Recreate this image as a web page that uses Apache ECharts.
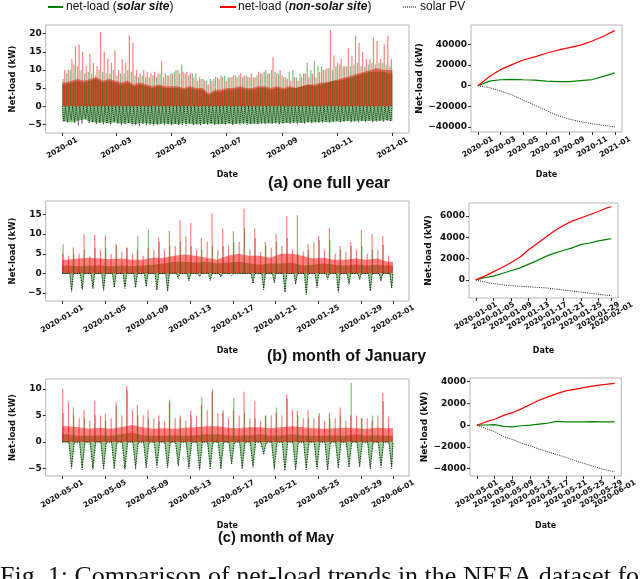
<!DOCTYPE html>
<html><head><meta charset="utf-8">
<script src="https://cdn.jsdelivr.net/npm/echarts@6/dist/echarts.min.js"></script>
<style>html,body{margin:0;padding:0;background:#fff}#c{width:640px;height:579px}</style>
</head><body><div id="c"></div><script>
// ---------------- DATA ----------------
// (a) full year: spike maxima per 4-day bin (92 bins)
const yearRedPk = [10,10,13,16.5,17,15,11,14.5,12,11,
 20.5,15,13,12,15.5,10,13,12,19.5,17.5,
 10,9,10,9.5,9,9.5,9,12.5,9,8.5,
 9,10,9,9.5,9.5,9,8,7,7.5,7,
 6,7,8,7.5,8,7,8,8.5,8,9,
 8.5,8,9,8,9.5,9,10,9,13.5,9,
 10,8,7.5,7,8,7,8,9,8,9,
 8,9.5,10,10.5,21,14,12,13,11,16,
 14,19.5,17.5,15,13,13,19,18,13,17,
 19.5,13];
const yearGrnPk = [7.5,9,10,11.5,11,10,9,9.5,9,8.5,
 10,9.5,9,9,10,8.5,9,9,10,9.5,
 8.5,8,8.5,8,8,8.5,8,9,8,8.5,
 9,9.5,10,11.5,9,8.5,9,9,8,7.5,
 7,7.5,7.5,8,8.5,8.5,8,8,8.5,8.5,
 8,8.5,8,8,8.5,9,9.5,9,10,9.5,
 9,8.5,8,9.5,10,8,9,9,12,10,
 12.5,11,11,10,10.5,10,11,11.5,11,11,
 11,11.5,12,11,11,11.5,12,11.5,12,12,
 11.5,11];
const yearPV = [-4.2,-4.5,-3.8,-4.6,-5.3,-4.8,-3.5,-4.7,-4.4,-4.9,
 -4.6,-5.0,-4.8,-5.1,-4.3,-4.9,-5.2,-5.0,-4.6,-5.3,
 -5.2,-5.4,-4.9,-5.2,-5.0,-5.3,-5.1,-4.8,-5.2,-5.0,
 -5.3,-4.9,-5.2,-5.1,-5.3,-4.7,-5.2,-5.0,-5.3,-4.9,
 -5.1,-4.8,-5.2,-5.0,-4.9,-5.1,-4.8,-5.2,-4.9,-5.0,
 -4.8,-5.1,-4.9,-4.7,-5.0,-4.8,-4.9,-4.6,-4.9,-4.7,
 -5.0,-4.8,-4.6,-4.9,-4.7,-5.0,-4.6,-4.8,-4.5,-4.7,
 -4.4,-4.6,-4.5,-4.2,-4.6,-4.4,-4.1,-4.5,-4.3,-4.0,
 -4.4,-4.2,-4.5,-4.1,-4.3,-4.0,-4.4,-4.2,-4.1,-4.3,
 -4.0,-4.2];
// weekly dense-core levels (53 weeks)
const yearRedCore = [6.5,7,7.5,7,7.5,8,7,7.5,7,6.5,7,6,6.5,6,5.5,6,5.5,5.5,5.5,5,5.5,5,5,3.5,4.5,4.5,5,5,5.5,5,5,5.5,5.5,5,5.5,5,5.5,5,5.5,6,6,6.5,6.5,7,7.5,8,8.5,9,9.5,10,10.5,10,10];
const yearGrnCore = [6,6.5,7,6.5,7,7.5,6.5,7,6.5,6,6.5,5.5,6,5.5,5,5.5,5,5,5,4.5,5,4.5,4.5,3,4,4,4.5,4.5,5,4.5,4.5,5,5,4.5,5,4.5,5,5,5.5,6,5.5,6,6.5,7,7,7.5,8,8.5,9,9.5,9.5,9.5,9];
const yearGrnNeg = [-4.2,-4.5,-4.0,-3.6,-4.3,-4.6,-4.4,-4.7,-4.5,-4.8,-4.6,-4.9,-4.7,-4.8,-4.9,-5.0,-4.8,-4.9,-5.0,-4.8,-4.9,-5.0,-4.9,-4.8,-4.9,-5.0,-4.8,-4.9,-4.8,-4.7,-4.9,-4.8,-4.7,-4.8,-4.6,-4.7,-4.6,-4.5,-4.6,-4.4,-4.5,-4.3,-4.4,-4.2,-4.3,-4.1,-4.2,-4.0,-4.1,-4.0,-4.1,-3.9,-4.0];
// (a) cumulative, at month starts + 2020-12-31
const yearCumDates = ['2020-01-01','2020-02-01','2020-03-01','2020-04-01','2020-05-01','2020-06-01','2020-07-01','2020-08-01','2020-09-01','2020-10-01','2020-11-01','2020-12-01','2020-12-31'];
const yearCumRed = [0,9000,15600,20500,25000,28000,31500,34500,37000,39500,43500,48000,53500];
const yearCumGrn = [0,4500,5800,6200,5800,5500,4500,4000,4000,5000,6000,9000,12500];
const yearCumPV  = [0,-2000,-5000,-9000,-14000,-19000,-24000,-29000,-32500,-35000,-37000,-38500,-40000];

// (b) January, one value per day (31)
const janRedPM   = [5,6.6,9.9,9.8,9.7,7.5,6.5,6,6.5,9,10.8,13.5,12.8,9,15.3,11.4,10.7,16.5,11.5,8,10,14.6,14.8,7.5,9.5,11.5,7,8,11,10,9.5];
const janRedAM   = [4.5,5,4.5,6,5,5.5,5,4.5,6,6,7,9.3,6,8,6,7,8,6,5.5,6.5,7,6,5.5,8,6,5,5.5,6,5,6,4.5];
const janRedCore = [3.5,3.8,4,3.8,3.6,3.8,3.5,3.5,4,4,4.5,4.8,4.5,4,3.5,4.5,5,4.5,4.5,4,5,5,4.5,3.8,4,3.5,3.5,3.8,3.5,3.8,3];
const janGrnPk   = [7.4,5,6,6.5,6.5,7,6.5,9.5,11.2,8,7,8,7,6,7,7,8,11.5,9,7,8,9,5,6,8.5,8.5,6,7,7,6,7.3];
const janGrnCore = [2,1.8,2,2,1.8,2,1.8,2,2.2,2.5,3,3,2.8,3,2.5,2.8,3,2.5,2.2,2.5,2.5,2.8,2,2.2,2.5,2.2,2,2.3,2,2.2,2];
const janGrnDip  = [-4.3,-3.8,-3.6,-4,-3.3,-3.5,-3.3,-3.1,-4,-4.3,-1,-1.6,-0.6,-1.5,-0.7,-0.3,-0.2,-2.3,-3.8,-2.1,-4.5,-2.4,-5.1,-3.3,-1.2,-4.5,-2.5,-1.3,-4.2,-1.7,-3.5];
const janPV      = [-4.6,-4.1,-3.9,-4.3,-3.6,-3.8,-3.6,-3.4,-4.3,-4.6,-1.3,-1.9,-0.9,-1.8,-1.0,-0.6,-0.4,-2.6,-4.1,-2.4,-4.8,-2.7,-5.4,-3.6,-1.5,-4.8,-2.8,-1.6,-4.5,-2.0,-3.8];
const janCumDays = [0,2,4,6,8,10,12,14,16,18,20,22,24,26,28,30,31];
const janCumRed  = [0,350,750,1150,1600,2100,2800,3400,4000,4600,5100,5500,5800,6100,6400,6750,6850];
const janCumGrn  = [0,200,350,600,850,1100,1450,1800,2200,2500,2750,3000,3300,3450,3650,3800,3850];
const janCumPV   = [0,-200,-350,-450,-550,-600,-650,-700,-750,-850,-950,-1050,-1150,-1250,-1350,-1450,-1480];

// (c) May, one value per day (31)
const mayRedPM   = [10,6.5,6,7.7,5.3,7.5,10.6,7,6.1,5,7.5,5,6,7,9.5,5.5,6,9.5,7.7,5,5.5,9,6,6,5,5.5,6.5,5,4.5,4,9.3];
const mayRedAM   = [7.6,4.5,4,5,4.5,5,6,5,4.5,4,4.5,4,5,6,5.5,4.5,5,4.5,4,5,5,6,4.5,4.5,4,4.5,4,5,4.5,5,4.7];
const mayRedCore = [3,2.8,2.5,2.7,2.5,2.8,3.2,2.8,2.5,2.6,2.5,2.7,2.8,3,3,2.7,2.6,2.8,2.8,2.6,2.8,3,2.8,2.6,2.5,2.6,2.7,2.6,2.5,2.7,2.6];
const mayGrnPk   = [5.5,5,4.5,5,4,6.8,9.8,5,4.5,4,8,4.5,5,8.5,10,6,8.3,5.5,4.5,5,6.5,8.2,5,4.5,5.5,4.5,5,11.2,4.5,5,7.7];
const mayGrnCore = [1.5,1.2,1.2,1.3,1.2,1.5,1.8,1.3,1.2,1.2,1.3,1.2,1.3,1.5,1.5,1.3,1.2,1.3,1.5,1.2,1.3,1.5,1.3,1.2,1.2,1.3,1.2,1.5,1.2,1.3,1.2];
const mayGrnDip  = [-4.6,-4.8,-4.9,-4.8,-4.7,-4.9,-4.6,-4.5,-4.3,-4.5,-4.2,-4.6,-5.0,-4.6,-4.7,-3.8,-4.7,-4.4,-2.0,-4.8,-5.0,-4.9,-4.8,-4.7,-4.9,-4.6,-4.4,-4.3,-4.7,-4.4,-4.6];
const mayPV      = [-5.0,-5.2,-5.2,-5.2,-5.1,-5.2,-5.1,-4.9,-4.8,-4.9,-4.6,-5.0,-5.3,-5.0,-5.1,-4.2,-5.1,-4.8,-2.4,-5.2,-5.4,-5.3,-5.2,-5.1,-5.3,-5.0,-4.8,-4.7,-5.1,-4.8,-5.0];
const mayCumDays = [0,2,4,6,8,10,12,14,16,18,20,22,24,26,28,30,31];
const mayCumRed  = [0,300,550,900,1150,1500,1900,2300,2600,2900,3150,3300,3450,3600,3700,3800,3850];
const mayCumGrn  = [0,20,50,-100,-150,-50,0,100,200,350,300,300,300,330,300,300,300];
const mayCumPV   = [0,-300,-600,-1050,-1300,-1650,-1900,-2200,-2450,-2700,-2950,-3250,-3500,-3750,-4000,-4200,-4250];

// tick labels
const yearTicks = ['2020-01','2020-03','2020-05','2020-07','2020-09','2020-11','2021-01'];
const janTicks = ['2020-01-01','2020-01-05','2020-01-09','2020-01-13','2020-01-17','2020-01-21','2020-01-25','2020-01-29','2020-02-01'];
const mayTicks = ['2020-05-01','2020-05-05','2020-05-09','2020-05-13','2020-05-17','2020-05-21','2020-05-25','2020-05-29','2020-06-01'];
const yTicksA = [-5,0,5,10,15,20];
const yTicksAc = [-40000,-20000,0,20000,40000];
const yTicksB = [-5,0,5,10,15];
const yTicksBc = [0,2000,4000,6000];
const yTicksC = [-5,0,5,10];
const yTicksCc = [-4000,-2000,0,2000,4000];

// ---------------- HELPERS ----------------
const FF = 'DejaVu Sans';
const RED_A = 'rgba(255,0,0,0.5)', GRN_A = 'rgba(0,128,0,0.5)';
function dayOf(s, start){
  const p = s.split('-').map(Number), q = start.split('-').map(Number);
  return (Date.UTC(p[0],p[1]-1,p[2]||1) - Date.UTC(q[0],q[1]-1,q[2]||1))/864e5;
}
const grids = [
  {left:33, top:25, width:376, height:108},
  {left:471, top:25, width:151, height:107},
  {left:33, top:201, width:376, height:100},
  {left:469, top:203, width:149, height:95},
  {left:33, top:379, width:376, height:97},
  {left:470, top:378, width:152, height:98}
].map(g => Object.assign(g, {show:true, borderColor:'#b4b4b4', borderWidth:1, containLabel:false}));

function xAxisCfg(gi, min, max, labels, start, margin, nameGap){
  const vals = labels.map(s => dayOf(s, start));
  return {type:'value', gridIndex:gi, min, max, position:'bottom', offset:0,
    axisLine:{show:false, onZero:false}, splitLine:{show:false},
    axisTick:{show:true, customValues:vals, length:3, lineStyle:{color:'#333'}},
    axisLabel:{customValues:vals, rotate:30, align:'center', verticalAlign:'middle', margin,
      showMinLabel:true, showMaxLabel:true, hideOverlap:false,
      fontFamily:FF, fontWeight:'bold', fontSize:7.5, color:'#111',
      formatter: v => { const i = vals.findIndex(x => Math.abs(x - v) < 1e-6); return i >= 0 ? labels[i] : ''; }},
    name: nameGap ? 'Date' : '', nameLocation:'middle', nameGap: nameGap || 0,
    nameTextStyle:{fontFamily:FF, fontWeight:'bold', fontSize:8, color:'#111'}};
}
function yAxisCfg(gi, min, max, ticks, gap, nameSize){
  return {type:'value', gridIndex:gi, min, max, position:'left',
    name:'Net-load (kW)', nameLocation:'middle', nameGap:gap,
    nameTextStyle:{fontFamily:FF, fontWeight:'bold', fontSize:nameSize, color:'#111'},
    axisLine:{show:false, onZero:false}, splitLine:{show:false},
    axisTick:{show:true, customValues:ticks, length:3, lineStyle:{color:'#333'}},
    axisLabel:{customValues:ticks, fontFamily:FF, fontWeight:'bold', fontSize:9, color:'#111', margin:4,
      showMinLabel:true, showMaxLabel:true,
      formatter: v => (v < 0 ? '\u2212' : '') + Math.abs(v)}};
}
function areaSeries(gi, data, color){
  return {type:'line', xAxisIndex:gi, yAxisIndex:gi, data, showSymbol:false, silent:true,
    lineStyle:{width:0}, areaStyle:{color, opacity:1}, z:2};
}
function barSeries(gi, data, color, z){
  return {type:'bar', xAxisIndex:gi, yAxisIndex:gi, data, barWidth:1.2, barGap:'-100%', silent:true,
    itemStyle:{color}, z:z||3};
}
function lineSeries(gi, data, color, type, width, z){
  return {type:'line', xAxisIndex:gi, yAxisIndex:gi, data, showSymbol:false, silent:true,
    lineStyle:{color, width, type}, z:z||5};
}
function spread(arr, span){ // level per segment, drawn at segment centres
  const n = arr.length, w = span / n, d = [[0, arr[0]]];
  arr.forEach((v,i) => d.push([(i+0.5)*w, v]));
  d.push([span, arr[n-1]]);
  return d;
}

const series = [];
// ---- (a) full year ----
{
  const span = 366, bw = span / yearRedPk.length;
  series.push(areaSeries(0, spread(yearGrnCore, span), GRN_A));
  series.push(areaSeries(0, spread(yearGrnNeg, span), GRN_A));
  series.push(barSeries(0, yearGrnPk.map((v,i) => [i*bw + bw*0.25, v]), GRN_A));
  series.push(areaSeries(0, spread(yearRedCore, span), RED_A));
  series.push(barSeries(0, yearRedPk.map((v,i) => [i*bw + bw*0.7, v]), RED_A));
  const pv = [[0,0]];
  yearPV.forEach((v,i) => { pv.push([i*bw + bw*0.1, 0], [i*bw + bw*0.5, v], [i*bw + bw*0.9, 0]); });
  series.push(lineSeries(0, pv, '#000', [1,1], 0.8, 6));
  const cd = yearCumDates.map(s => dayOf(s, '2020-01-01'));
  series.push(lineSeries(1, cd.map((x,i) => [x, yearCumPV[i]]), '#222', [1,1.2], 1));
  series.push(lineSeries(1, cd.map((x,i) => [x, yearCumGrn[i]]), '#008000', 'solid', 1.2));
  series.push(lineSeries(1, cd.map((x,i) => [x, yearCumRed[i]]), '#ff0000', 'solid', 1.2));
}
// ---- month panels ----
function monthPanel(gi, m, h0, h1, h2){
  const n = 31;
  series.push(areaSeries(gi, spread(m.grnCore, n), GRN_A));
  const gd = [[0,0]];
  m.grnDip.forEach((v,i) => gd.push([i + h0/24, 0], [i + h1/24, v], [Math.min(n, i + h2/24), 0]));
  series.push({type:'line', xAxisIndex:gi, yAxisIndex:gi, data:gd, showSymbol:false, silent:true,
    lineStyle:{width:0.8, color:'rgba(0,128,0,0.55)'}, areaStyle:{color:'rgba(0,128,0,0.4)', opacity:1}, z:2});
  series.push(barSeries(gi, m.grnPk.map((v,i) => [i + 2/24, v]), GRN_A));
  series.push(areaSeries(gi, spread(m.redCore, n), RED_A));
  series.push(barSeries(gi, m.redPM.map((v,i) => [i + 1/24, v]), RED_A));
  series.push(barSeries(gi, m.redAM.map((v,i) => [i + 14/24, v]), RED_A));
  const pv = [[0,0]];
  m.pv.forEach((v,i) => pv.push([i + h0/24, 0], [i + h1/24, v], [Math.min(n, i + h2/24), 0]));
  series.push(lineSeries(gi, pv, '#000', [1,1.5], 0.9, 6));
}
monthPanel(2, {redPM:janRedPM, redAM:janRedAM, redCore:janRedCore, grnPk:janGrnPk, grnCore:janGrnCore, grnDip:janGrnDip, pv:janPV}, 17, 21, 25);
monthPanel(4, {redPM:mayRedPM, redAM:mayRedAM, redCore:mayRedCore, grnPk:mayGrnPk, grnCore:mayGrnCore, grnDip:mayGrnDip, pv:mayPV}, 15, 21, 27);
function cumPanel(gi, days, red, grn, pv){
  series.push(lineSeries(gi, days.map((x,i) => [x, pv[i]]), '#222', [1,1.2], 1));
  series.push(lineSeries(gi, days.map((x,i) => [x, grn[i]]), '#008000', 'solid', 1.2));
  series.push(lineSeries(gi, days.map((x,i) => [x, red[i]]), '#ff0000', 'solid', 1.2));
}
cumPanel(3, janCumDays, janCumRed, janCumGrn, janCumPV);
cumPanel(5, mayCumDays, mayCumRed, mayCumGrn, mayCumPV);

const xAxis = [
  xAxisCfg(0, -18.3, 384.3, yearTicks, '2020-01-01', 15, 38),
  xAxisCfg(1, -18.3, 384.3, yearTicks, '2020-01-01', 15, 39),
  xAxisCfg(2, -1.55, 32.5, janTicks, '2020-01-01', 18, 46),
  xAxisCfg(3, -1.55, 32.5, janTicks.slice(0, -1), '2020-01-01', 18, 49),
  xAxisCfg(4, -1.55, 32.5, mayTicks, '2020-05-01', 18, 46),
  xAxisCfg(5, -1.55, 32.5, mayTicks.slice(0, -1), '2020-05-01', 18, 46),
  // the last (overlapping) month-end label of the small panels, on its own axis so it is not hidden
  xAxisCfg(3, -1.55, 32.5, janTicks.slice(-1), '2020-01-01', 18, 0),
  xAxisCfg(5, -1.55, 32.5, mayTicks.slice(-1), '2020-05-01', 18, 0)
];
const yAxis = [
  yAxisCfg(0, -7.4, 22.4, yTicksA, 16, 8.5),
  yAxisCfg(1, -45000, 59000, yTicksAc, 37, 9),
  yAxisCfg(2, -7.0, 18.4, yTicksB, 16, 8.5),
  yAxisCfg(3, -1700, 7200, yTicksBc, 36, 9),
  yAxisCfg(4, -6.4, 11.9, yTicksC, 16, 8.5),
  yAxisCfg(5, -4670, 4340, yTicksCc, 37, 9)
];

const LF = 'Liberation Sans';
function legendItem(x1, x2, color, dash, label, tx){
  return [
    {type:'line', shape:{x1, y1:7, x2, y2:7}, style:{stroke:color, lineWidth: dash ? 1.2 : 2, lineDash: dash || null}},
    {type:'text', x:tx, y:7, style:{text:label, fontFamily:LF, fontSize:12, fill:'#111', verticalAlign:'middle',
      rich:{i:{fontFamily:LF, fontSize:12, fontStyle:'italic', fontWeight:'bold', fill:'#111'}}}}
  ];
}
const graphic = [].concat(
  legendItem(48, 63, '#008000', null, 'net-load ({i|solar site})', 66),
  legendItem(220, 236, '#ff0000', null, 'net-load ({i|non-solar site})', 238),
  legendItem(403, 416, '#000', [1,1], 'solar PV', 420),
  [
    {type:'text', x:268, y:183, style:{text:'(a) one full year', fontFamily:LF, fontWeight:'bold', fontSize:16.5, fill:'#111', verticalAlign:'middle'}},
    {type:'text', x:267, y:357, style:{text:'(b) month of January', fontFamily:LF, fontWeight:'bold', fontSize:16, fill:'#111', verticalAlign:'middle'}},
    {type:'text', x:218, y:538, style:{text:'(c) month of May', fontFamily:LF, fontWeight:'bold', fontSize:14.5, fill:'#111', verticalAlign:'middle'}},
    {type:'text', x:0, y:564, style:{text:'Fig. 1: Comparison of net-load trends in the NEEA dataset for', fontFamily:'Liberation Serif', fontSize:26, fill:'#111', verticalAlign:'top'}}
  ]
);

const chart = echarts.init(document.getElementById('c'), null, {renderer:'canvas'});
chart.setOption({animation:false, backgroundColor:'#fff', grid:grids, xAxis, yAxis, series, graphic});
</script></body></html>
